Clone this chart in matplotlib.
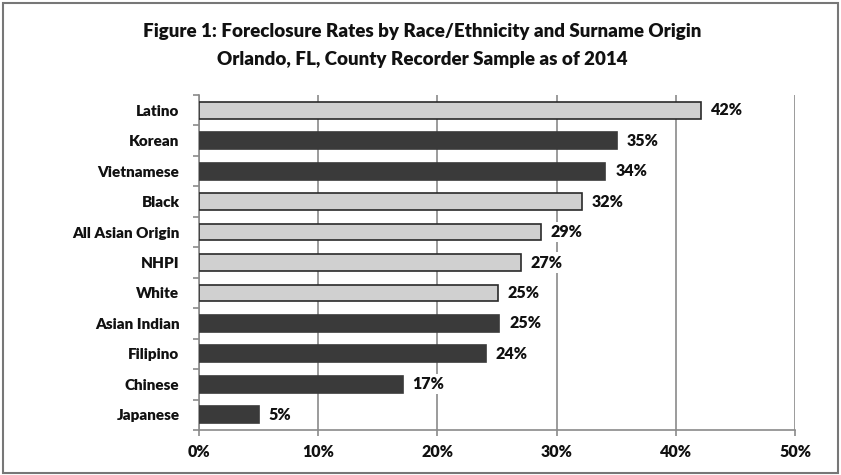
import numpy as np
import matplotlib.pyplot as plt
from matplotlib.patches import Rectangle
from matplotlib.ticker import FixedLocator, PercentFormatter

plt.rcParams['font.family'] = ['Lato', 'DejaVu Sans']

groups = ['Latino', 'Korean', 'Vietnamese', 'Black', 'All Asian Origin', 'NHPI',
          'White', 'Asian Indian', 'Filipino', 'Chinese', 'Japanese']
rates = [42.1, 35.1, 34.1, 32.1, 28.7, 27.0, 25.1, 25.2, 24.1, 17.1, 5.0]
labels = ['42%', '35%', '34%', '32%', '29%', '27%', '25%', '25%', '24%', '17%', '5%']
# light bars are the race/ethnicity groups, dark ones the Asian surname origins
light = [True, False, False, True, True, True, True, False, False, False, False]

W = 'heavy'

fig = plt.figure(figsize=(8.41, 4.75), dpi=100)
ax = fig.add_axes([199/841, 1 - 430/475, 596/841, 335/475])

y = np.arange(len(groups))
cols = ['#d0d0d0' if l else '#3a3a3a' for l in light]
edges = ['#2a2a2a' if l else '#3a3a3a' for l in light]
ax.barh(y, rates, height=0.55, color=cols, edgecolor=edges, linewidth=1.2, zorder=3)

for yi, r, t in zip(y, rates, labels):
    ax.annotate(t, (r, yi), xytext=(7, 0), textcoords='offset points',
                va='center', ha='left', fontsize=11.5, fontweight=W,
                color='#111111', zorder=4,
                bbox=dict(facecolor='white', edgecolor='none', pad=1.5))

ax.set_xlim(0, 50)
ax.set_ylim(len(groups) - 0.5, -0.5)
ax.xaxis.set_major_locator(FixedLocator([0, 10, 20, 30, 40, 50]))
ax.xaxis.set_major_formatter(PercentFormatter(decimals=0))
ax.set_yticks(y)
ax.set_yticklabels(groups)
ax.yaxis.set_minor_locator(FixedLocator(np.arange(-0.5, len(groups), 1)))

ax.grid(axis='x', color='#8a8a8a', linewidth=1.2, zorder=0)
for s in ['top', 'right']:
    ax.spines[s].set_visible(False)
for s in ['left', 'bottom']:
    ax.spines[s].set_color('#8a8a8a')
    ax.spines[s].set_linewidth(1.2)

ax.tick_params(axis='y', which='major', length=0, pad=14, labelsize=11, colors='#111111')
ax.tick_params(axis='y', which='minor', length=4, width=1.2, color='#8a8a8a')
ax.tick_params(axis='x', which='major', length=4, width=1.2, color='#8a8a8a',
               pad=6, labelsize=11.5, labelcolor='#111111')
for t in ax.get_xticklabels() + ax.get_yticklabels():
    t.set_fontweight(W)

fig.text(0.502, 1 - 31/475, 'Figure 1: Foreclosure Rates by Race/Ethnicity and Surname Origin',
         ha='center', va='center', fontsize=13.5, fontweight=W, color='#111111')
fig.text(0.502, 1 - 60/475, 'Orlando, FL, County Recorder Sample as of 2014',
         ha='center', va='center', fontsize=13.5, fontweight=W, color='#111111')

fig.patches.append(Rectangle((3/841, 2/475), 835/841, 470/475, transform=fig.transFigure,
                             fill=False, edgecolor='#777777', linewidth=1.5))

fig.savefig('out.png', dpi=100)
